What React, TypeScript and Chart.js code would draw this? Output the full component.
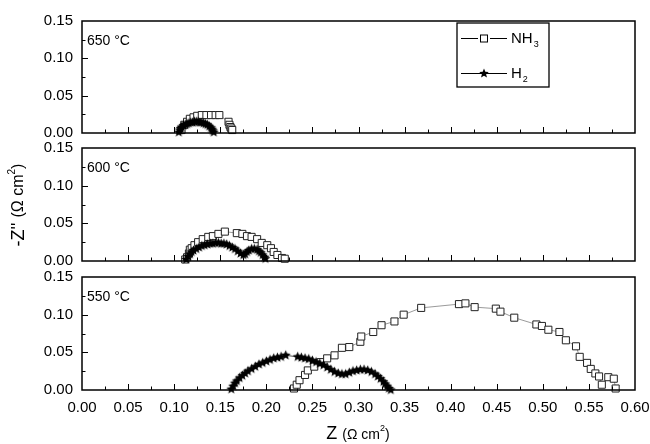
import React, { useEffect, useRef } from 'react';
import { Chart, registerables } from 'chart.js';

Chart.register(...registerables);

const FONT = 'Arial, "Liberation Sans", Helvetica, sans-serif';

// ---- tick labels ----
const X_TICKS = [0, 0.05, 0.1, 0.15, 0.2, 0.25, 0.3, 0.35, 0.4, 0.45, 0.5, 0.55, 0.6];
const Y_TICKS = [0, 0.05, 0.1, 0.15];
const PANEL_LABELS = ['650 °C', '600 °C', '550 °C'];

// ---- 650 °C ----
const NH3_650_X = [0.108, 0.111, 0.114, 0.117, 0.121, 0.125, 0.130, 0.135, 0.140, 0.145, 0.149, 0.159, 0.160, 0.161, 0.162, 0.163];
const NH3_650_Y = [0.004, 0.011, 0.015, 0.019, 0.021, 0.023, 0.024, 0.024, 0.024, 0.024, 0.024, 0.015, 0.011, 0.008, 0.006, 0.004];
const H2_650_X = [0.105, 0.106, 0.107, 0.108, 0.110, 0.112, 0.114, 0.116, 0.118, 0.120, 0.122, 0.124, 0.126, 0.128, 0.130, 0.132, 0.134, 0.136, 0.138, 0.140, 0.141, 0.142, 0.143];
const H2_650_Y = [0.001, 0.004, 0.006, 0.008, 0.010, 0.011, 0.012, 0.013, 0.014, 0.014, 0.015, 0.015, 0.015, 0.014, 0.014, 0.013, 0.012, 0.011, 0.009, 0.007, 0.005, 0.003, 0.001];

// ---- 600 °C ----
const NH3_600_X = [0.112, 0.114, 0.116, 0.117, 0.119, 0.122, 0.126, 0.131, 0.137, 0.142, 0.148, 0.155, 0.168, 0.174, 0.179, 0.184, 0.190, 0.195, 0.201, 0.205, 0.208, 0.212, 0.217, 0.220];
const NH3_600_Y = [0.002, 0.005, 0.010, 0.015, 0.017, 0.021, 0.025, 0.029, 0.032, 0.033, 0.036, 0.039, 0.037, 0.036, 0.033, 0.032, 0.029, 0.024, 0.021, 0.017, 0.012, 0.008, 0.004, 0.003];
const H2_600_X = [0.113, 0.115, 0.117, 0.119, 0.121, 0.124, 0.127, 0.130, 0.133, 0.136, 0.139, 0.142, 0.145, 0.148, 0.151, 0.154, 0.157, 0.160, 0.163, 0.166, 0.169, 0.172, 0.175, 0.177, 0.179, 0.181, 0.184, 0.187, 0.190, 0.192, 0.194, 0.196, 0.198, 0.199];
const H2_600_Y = [0.002, 0.006, 0.009, 0.012, 0.014, 0.016, 0.018, 0.020, 0.021, 0.022, 0.023, 0.023, 0.024, 0.024, 0.023, 0.023, 0.022, 0.020, 0.018, 0.016, 0.013, 0.010, 0.008, 0.009, 0.012, 0.014, 0.016, 0.016, 0.015, 0.013, 0.011, 0.008, 0.005, 0.003];

// ---- 550 °C ----
const NH3_550_X = [0.230, 0.233, 0.236, 0.242, 0.245, 0.252, 0.259, 0.266, 0.274, 0.282, 0.290, 0.302, 0.303, 0.316, 0.325, 0.339, 0.349, 0.368, 0.409, 0.416, 0.426, 0.449, 0.454, 0.469, 0.493, 0.499, 0.506, 0.518, 0.525, 0.536, 0.540, 0.548, 0.552, 0.557, 0.561, 0.564, 0.571, 0.577, 0.579];
const NH3_550_Y = [0.002, 0.007, 0.013, 0.020, 0.026, 0.031, 0.037, 0.042, 0.046, 0.056, 0.057, 0.064, 0.071, 0.077, 0.086, 0.091, 0.100, 0.109, 0.114, 0.115, 0.110, 0.108, 0.104, 0.096, 0.087, 0.085, 0.080, 0.077, 0.066, 0.058, 0.044, 0.036, 0.028, 0.022, 0.018, 0.007, 0.017, 0.015, 0.002];
const H2_550_X = [0.162, 0.164, 0.166, 0.168, 0.171, 0.174, 0.177, 0.180, 0.184, 0.188, 0.192, 0.196, 0.200, 0.204, 0.208, 0.212, 0.216, 0.221, 0.234, 0.238, 0.242, 0.246, 0.250, 0.254, 0.258, 0.262, 0.266, 0.270, 0.274, 0.278, 0.282, 0.286, 0.290, 0.294, 0.298, 0.302, 0.306, 0.310, 0.314, 0.318, 0.321, 0.324, 0.327, 0.329, 0.331, 0.333, 0.335];
const H2_550_Y = [0.001, 0.005, 0.009, 0.012, 0.016, 0.019, 0.022, 0.025, 0.028, 0.031, 0.034, 0.036, 0.038, 0.040, 0.042, 0.043, 0.044, 0.046, 0.044, 0.043, 0.042, 0.041, 0.039, 0.037, 0.035, 0.033, 0.030, 0.027, 0.024, 0.022, 0.021, 0.021, 0.023, 0.025, 0.026, 0.027, 0.027, 0.026, 0.024, 0.021, 0.018, 0.015, 0.011, 0.008, 0.005, 0.002, 0.000];

const pts = (xs: number[], ys: number[]) => xs.map((x, i) => ({ x, y: ys[i] }));

const SERIES = [
  { nh3: pts(NH3_650_X, NH3_650_Y), h2: pts(H2_650_X, H2_650_Y) },
  { nh3: pts(NH3_600_X, NH3_600_Y), h2: pts(H2_600_X, H2_600_Y) },
  { nh3: pts(NH3_550_X, NH3_550_Y), h2: pts(H2_550_X, H2_550_Y) },
];

// layout (pixels)
const W = 650;
const H = 444;
const PLOT_LEFT = 82;
const PLOT_RIGHT = 635;
const X_AXIS_H = 30;
const PANEL_BOUNDS = [
  { top: 21, bottom: 133 },
  { top: 148, bottom: 261 },
  { top: 277, bottom: 390 },
];

function starPath(ctx: CanvasRenderingContext2D, cx: number, cy: number, r: number) {
  ctx.beginPath();
  for (let i = 0; i < 10; i++) {
    const rad = i % 2 === 0 ? r : r * 0.45;
    const a = -Math.PI / 2 + (i * Math.PI) / 5;
    const px = cx + rad * Math.cos(a);
    const py = cy + rad * Math.sin(a);
    if (i === 0) ctx.moveTo(px, py);
    else ctx.lineTo(px, py);
  }
  ctx.closePath();
}

function makeStar(r: number) {
  const size = Math.ceil(r * 2) + 2;
  const c = document.createElement('canvas');
  c.width = size;
  c.height = size;
  const ctx = c.getContext('2d')!;
  ctx.fillStyle = '#000';
  starPath(ctx, size / 2, size / 2, r);
  ctx.fill();
  return c;
}

function makeFramePlugin(idx: number) {
  return {
    id: 'frame' + idx,
    afterDatasetsDraw(chart: any) {
      const { ctx, chartArea: a, scales } = chart;
      const xs = scales.x;
      const ys = scales.y;
      ctx.save();
      ctx.strokeStyle = '#000';
      ctx.lineWidth = 1;
      // inward tick marks
      ctx.beginPath();
      for (let i = 1; i < 24; i++) {
        const px = Math.round(xs.getPixelForValue(i * 0.025)) + 0.5;
        const len = i % 2 === 0 ? 6 : 3.5;
        ctx.moveTo(px, a.bottom);
        ctx.lineTo(px, a.bottom - len);
      }
      for (let i = 1; i < 6; i++) {
        const py = Math.round(ys.getPixelForValue(i * 0.025)) + 0.5;
        const len = i % 2 === 0 ? 6 : 3.5;
        ctx.moveTo(a.left, py);
        ctx.lineTo(a.left + len, py);
      }
      ctx.stroke();
      // frame
      ctx.lineWidth = 1.5;
      ctx.strokeRect(a.left, a.top, a.right - a.left, a.bottom - a.top);

      // panel label
      ctx.fillStyle = '#000';
      ctx.font = `14px ${FONT}`;
      ctx.textBaseline = 'middle';
      ctx.textAlign = 'left';
      ctx.fillText(PANEL_LABELS[idx], a.left + 5, a.top + 20);

      if (idx === 0) {
        // legend
        const bx = 457, by = 23, bw = 92, bh = 64;
        ctx.lineWidth = 1.3;
        ctx.strokeRect(bx, by, bw, bh);
        const rows = [38, 73];
        ctx.lineWidth = 1;
        rows.forEach((ry, r) => {
          ctx.beginPath();
          if (r === 0) {
            ctx.moveTo(461, ry + 0.5);
            ctx.lineTo(478, ry + 0.5);
            ctx.moveTo(490, ry + 0.5);
            ctx.lineTo(507, ry + 0.5);
          } else {
            ctx.moveTo(461, ry + 0.5);
            ctx.lineTo(507, ry + 0.5);
          }
          ctx.stroke();
          if (r === 0) {
            ctx.fillStyle = '#fff';
            ctx.fillRect(480.5, ry - 3, 7, 7);
            ctx.strokeRect(480.5, ry - 3, 7, 7);
          } else {
            starPath(ctx, 484, ry + 0.5, 5);
            ctx.fillStyle = '#000';
            ctx.fill();
          }
          ctx.fillStyle = '#000';
          ctx.font = `15px ${FONT}`;
          ctx.textBaseline = 'middle';
          const main = r === 0 ? 'NH' : 'H';
          const sub = r === 0 ? '3' : '2';
          ctx.fillText(main, 511, ry + 1);
          const w = ctx.measureText(main).width;
          ctx.font = `9px ${FONT}`;
          ctx.fillText(sub, 511 + w + 1, ry + 7);
        });
      }

      if (idx === 1) {
        // y axis title, rotated
        ctx.save();
        ctx.translate(19, 205);
        ctx.rotate(-Math.PI / 2);
        ctx.textBaseline = 'middle';
        ctx.textAlign = 'left';
        const parts = [
          { t: "-Z'' ", f: `18px ${FONT}`, dy: 0 },
          { t: '(Ω cm', f: `16px ${FONT}`, dy: 0 },
          { t: '2', f: `10px ${FONT}`, dy: -7 },
          { t: ')', f: `16px ${FONT}`, dy: 0 },
        ];
        let total = 0;
        parts.forEach((p) => { ctx.font = p.f; total += ctx.measureText(p.t).width; });
        let x = -total / 2;
        parts.forEach((p) => {
          ctx.font = p.f;
          ctx.fillText(p.t, x, p.dy);
          x += ctx.measureText(p.t).width;
        });
        ctx.restore();
      }

      if (idx === 2) {
        // x axis title
        ctx.textBaseline = 'middle';
        ctx.textAlign = 'left';
        const parts = [
          { t: 'Z ', f: `18px ${FONT}`, dy: 0 },
          { t: '(Ω cm', f: `14px ${FONT}`, dy: 1 },
          { t: '2', f: `9px ${FONT}`, dy: -5 },
          { t: ')', f: `14px ${FONT}`, dy: 1 },
        ];
        let total = 0;
        parts.forEach((p) => { ctx.font = p.f; total += ctx.measureText(p.t).width; });
        let x = 358 - total / 2;
        parts.forEach((p) => {
          ctx.font = p.f;
          ctx.fillText(p.t, x, 434 + p.dy);
          x += ctx.measureText(p.t).width;
        });
      }
      ctx.restore();
    },
  };
}

function Panel({ idx }: { idx: number }) {
  const ref = useRef<HTMLCanvasElement | null>(null);
  useEffect(() => {
    if (!ref.current) return;
    const bounds = PANEL_BOUNDS[idx];
    const showX = idx === 2;
    const xH = showX ? X_AXIS_H : 0;
    const star = makeStar(5.2);
    const chart = new Chart(ref.current, {
      type: 'scatter',
      data: {
        datasets: [
          {
            label: 'H2',
            data: SERIES[idx].h2,
            showLine: true,
            borderColor: '#222',
            borderWidth: 0.8,
            pointStyle: star as any,
            pointRadius: 5.2,
            clip: false as any,
          },
          {
            label: 'NH3',
            data: SERIES[idx].nh3,
            showLine: true,
            borderColor: '#555',
            borderWidth: 0.6,
            pointStyle: 'rect',
            pointRadius: 5,
            pointBorderWidth: 1,
            pointBorderColor: '#222',
            pointBackgroundColor: '#fff',
            clip: false as any,
          },
        ],
      },
      options: {
        responsive: false,
        animation: false,
        devicePixelRatio: 1,
        layout: {
          padding: { left: 0, right: W - PLOT_RIGHT, top: bounds.top, bottom: H - bounds.bottom - xH },
        },
        plugins: {
          legend: { display: false },
          tooltip: { enabled: false },
        },
        scales: {
          x: {
            type: 'linear',
            position: 'bottom',
            min: 0,
            max: 0.6,
            grid: { display: false, drawTicks: false },
            border: { display: false },
            afterBuildTicks: (s: any) => { s.ticks = X_TICKS.map((v) => ({ value: v })); },
            afterFit: (s: any) => { s.height = xH; s.paddingLeft = 0; s.paddingRight = 0; },
            ticks: {
              display: showX,
              padding: 9,
              color: '#000',
              font: { family: FONT, size: 15 },
              maxRotation: 0,
              autoSkip: false,
              callback: (v: any) => Number(v).toFixed(2),
            },
          },
          y: {
            type: 'linear',
            min: 0,
            max: 0.15,
            grid: { display: false, drawTicks: false },
            border: { display: false },
            afterBuildTicks: (s: any) => { s.ticks = Y_TICKS.map((v) => ({ value: v })); },
            afterFit: (s: any) => { s.width = PLOT_LEFT; s.paddingTop = 0; s.paddingBottom = 0; },
            ticks: {
              padding: 9,
              color: '#000',
              font: { family: FONT, size: 15 },
              autoSkip: false,
              callback: (v: any) => Number(v).toFixed(2),
            },
          },
        },
      },
      plugins: [makeFramePlugin(idx)],
    });
    return () => chart.destroy();
  }, [idx]);
  return (
    <canvas
      ref={ref}
      width={W}
      height={H}
      style={{ position: 'absolute', left: 0, top: 0, width: W, height: H }}
    />
  );
}

export default function App() {
  return (
    <div style={{ position: 'fixed', left: 0, top: 0, width: W, height: H, background: '#fff' }}>
      <Panel idx={0} />
      <Panel idx={1} />
      <Panel idx={2} />
    </div>
  );
}
